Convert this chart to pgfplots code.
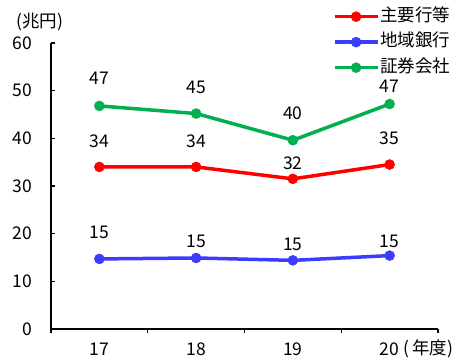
\documentclass[border=0pt]{standalone}
\usepackage{pgfplots}
\usepackage{pgfplotstable}
\pgfplotsset{compat=1.18}
\usepackage{fontspec}
\setmainfont{Noto Sans CJK JP}
\definecolor{cred}{RGB}{255,0,0}
\definecolor{cblue}{RGB}{60,60,255}
\definecolor{cgreen}{RGB}{0,176,80}
\pgfplotstableread{
x y lab dy
1 34.0 34 25.7
2 34.0 34 25.7
3 31.5 32 15.4
4 34.5 35 26
}\red
\pgfplotstableread{
x y lab dy
1 14.7 15 26.3
2 14.9 15 16.3
3 14.4 15 16.3
4 15.4 15 14
}\blue
\pgfplotstableread{
x y lab dy
1 46.8 47 27.7
2 45.2 45 26.6
3 39.6 40 26.7
4 47.2 47 18
}\green
\begin{document}
\fontsize{17.5}{20}\selectfont
\begin{tikzpicture}
\path[use as bounding box] (-51pt,-34pt) rectangle (422pt,329pt);
\begin{axis}[
  scale only axis, width=387pt, height=286pt,
  anchor=south west, at={(0,0)},
  xmin=0.5, xmax=4.5, ymin=0, ymax=60,
  axis x line*=bottom, axis y line*=left,
  axis line style={line width=1.6pt, black, -},
  xtick={1,2,3,4}, xticklabels={17,18,19,20},
  major x tick style={draw=none},
  minor xtick={0.5,1.5,2.5,3.5,4.5},
  minor x tick style={line width=1.2pt, black},
  minor tick length=4pt,
  x tick label style={yshift=-4pt},
  ytick={0,10,...,60},
  y tick style={line width=1.2pt, black},
  major tick length=4pt,
  ytick align=inside, xtick align=outside,
  y tick label style={xshift=-13pt},
  /pgf/number format/assume math mode=true,
  tick label style={font=\fontsize{17.5}{20}\selectfont},
  clip=false,
  legend style={at={(0.72,1.133)}, anchor=north west, draw=none, fill=none,
    font=\fontsize{17.5}{20}\selectfont, row sep=6.5pt,
    nodes={inner sep=1pt, text height=13pt, text depth=4pt}},
  legend cell align=left,
  legend image code/.code={\draw[#1, mark repeat=2, mark phase=2] plot coordinates {(0pt,0pt) (21.5pt,0pt) (43pt,0pt)};},
  nodes near coords,
  point meta=explicit symbolic,
  visualization depends on={\thisrow{dy} \as \dy},
  every node near coord/.append style={anchor=center, yshift=\dy pt, font=\fontsize{17.5}{20}\selectfont, text=black},
  every axis plot/.append style={line width=3.5pt, mark=*, mark size=5pt, mark options={line width=0.5pt}},
]
\addplot[color=cred] table[x=x, y=y, meta=lab] {\red};
\addlegendentry{主要行等}
\addplot[color=cblue] table[x=x, y=y, meta=lab] {\blue};
\addlegendentry{地域銀行}
\addplot[color=cgreen] table[x=x, y=y, meta=lab] {\green};
\addlegendentry{証券会社}
\node[anchor=west, inner sep=0pt] at (axis description cs:0,1) [xshift=-35pt, yshift=21pt] {(兆円)};
\node[anchor=west, inner sep=0pt] at (axis description cs:0,0) [xshift=352pt, yshift=-20pt] {(\,年度)};
\end{axis}
\end{tikzpicture}
\end{document}
